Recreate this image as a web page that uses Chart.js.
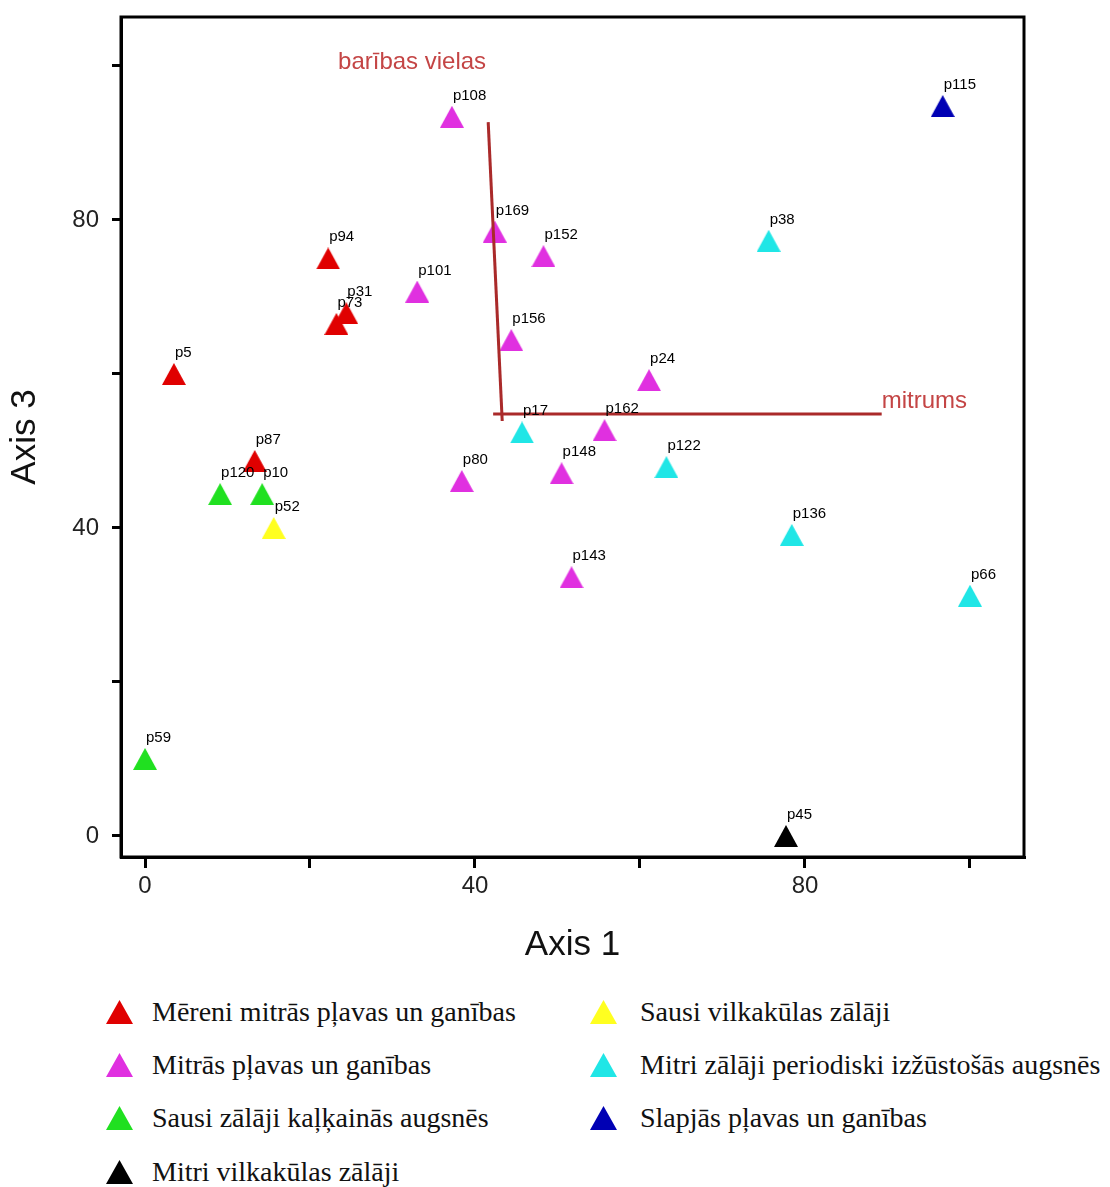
<!DOCTYPE html>
<html>
<head>
<meta charset="utf-8">
<script src="https://cdn.jsdelivr.net/npm/chart.js@4/dist/chart.umd.min.js"></script>
<style>
  body { margin: 0; background: #fff; }
  #wrap { position: relative; width: 1110px; height: 1187px; overflow: hidden; }
  #ord { position: absolute; left: 0; top: 0; }
  #legende {
    position: absolute; left: 106px; top: 985px;
    display: grid; grid-auto-flow: column;
    grid-template-rows: repeat(4, 53.4px); grid-template-columns: 484px auto;
    font-family: "Liberation Serif", "Times New Roman", serif; font-size: 28px; color: #111;
  }
  .item { display: flex; align-items: center; white-space: nowrap; }
  .item svg { margin-right: 19px; flex: none; }
  .item:nth-child(n+5) svg { margin-right: 23px; }
</style>
</head>
<body>
<div id="wrap">
  <canvas id="ord" width="1110" height="980"></canvas>
  <div id="legende"></div>
</div>
<script>
// groupes de végétation
const groupes = [
  'Mēreni mitrās pļavas un ganības',
  'Mitrās pļavas un ganības',
  'Sausi zālāji kaļķainās augsnēs',
  'Mitri vilkakūlas zālāji',
  'Sausi vilkakūlas zālāji',
  'Mitri zālāji periodiski izžūstošās augsnēs',
  'Slapjās pļavas un ganības'
];
const couleurs = ['#e00000', '#e030e0', '#20e020', '#000000', '#ffff20', '#20e6e6', '#0000b4'];

// relevés : nom, Axis 1, Axis 3, groupe
const releves = ['p5', 'p94', 'p31', 'p73', 'p87', 'p120', 'p10', 'p52', 'p59', 'p45', 'p108', 'p169', 'p152',
  'p101', 'p156', 'p24', 'p17', 'p162', 'p148', 'p122', 'p80', 'p143', 'p115', 'p38', 'p136', 'p66'];
const axe1 = [3.5, 22.2, 24.4, 23.2, 13.3, 9.1, 14.2, 15.6, 0, 77.7, 37.2, 42.4, 48.3,
  33.0, 44.4, 61.1, 45.7, 55.7, 50.5, 63.2, 38.4, 51.7, 96.7, 75.6, 78.4, 100.0];
const axe3 = [60, 75, 67.9, 66.5, 48.7, 44.4, 44.4, 40, 10, 0, 93.4, 78.5, 75.3,
  70.7, 64.4, 59.2, 52.4, 52.7, 47.1, 47.9, 46.1, 33.6, 94.8, 77.3, 39.1, 31.2];
const groupe = [0, 0, 0, 0, 0, 2, 2, 4, 2, 3, 1, 1, 1, 1, 1, 1, 5, 1, 1, 5, 1, 1, 6, 5, 5, 5];

// vecteurs (biplot)
const vecteurs = ['barības vielas', 'mitrums'];
const vecDebutX = [43.3, 42.2];
const vecDebutY = [53.9, 54.8];
const vecFinX = [41.6, 89.3];
const vecFinY = [92.7, 54.8];
const vecTexteX = [23.4, 89.3];
const vecTexteY = [99.6, 55.6];

const FONT_SANS = '"Liberation Sans", Arial, sans-serif';

/**
 * triangle utilisé comme pointStyle (centré sur sa boîte)
 */
function triangle(couleur) {
  const c = document.createElement('canvas');
  c.width = 24; c.height = 22;
  const ctx = c.getContext('2d');
  ctx.fillStyle = couleur;
  ctx.beginPath();
  ctx.moveTo(12, 0); ctx.lineTo(24, 22); ctx.lineTo(0, 22);
  ctx.closePath();
  ctx.fill();
  return c;
}

let datasets = groupes.map((nom, g) => ({
  label: nom,
  data: releves.map((r, i) => ({ x: axe1[i], y: axe3[i], nom: r })).filter((p, i) => groupe[i] === g),
  pointStyle: triangle(couleurs[g]),
  pointRadius: 11,
  backgroundColor: couleurs[g],
  borderColor: couleurs[g],
  order: 1
}));

vecteurs.forEach((nom, i) => {
  datasets.push({
    label: nom,
    data: [{ x: vecDebutX[i], y: vecDebutY[i] }, { x: vecFinX[i], y: vecFinY[i] }],
    showLine: true,
    pointRadius: 0,
    borderColor: '#aa2a2a',
    borderWidth: 3,
    order: 0
  });
});

/**
 * étiquettes, textes des vecteurs et cadre
 */
const cadre = {
  id: 'cadre',
  afterDatasetsDraw(chart) {
    const { ctx, chartArea: a } = chart;
    const sx = chart.scales.x, sy = chart.scales.y;
    ctx.save();
    ctx.font = '15px ' + FONT_SANS;
    ctx.fillStyle = '#000';
    ctx.textAlign = 'left';
    ctx.textBaseline = 'alphabetic';
    releves.forEach((nom, i) => {
      ctx.fillText(nom, sx.getPixelForValue(axe1[i]) + 1, sy.getPixelForValue(axe3[i]) - 17);
    });
    ctx.font = '24px ' + FONT_SANS;
    ctx.fillStyle = '#c44545';
    vecteurs.forEach((nom, i) => {
      ctx.fillText(nom, sx.getPixelForValue(vecTexteX[i]), sy.getPixelForValue(vecTexteY[i]));
    });
    ctx.lineWidth = 3;
    ctx.strokeStyle = '#000';
    ctx.strokeRect(a.left, a.top, a.right - a.left, a.bottom - a.top);
    ctx.restore();
  }
};

let options = {
  responsive: false,
  animation: false,
  layout: { padding: { top: 17, right: 86, left: 0, bottom: 0 } },
  plugins: { legend: { display: false }, tooltip: { enabled: false } },
  scales: {
    x: {
      type: 'linear', position: 'bottom', min: -2.91, max: 106.55,
      afterFit: (s) => { s.height = 123; s.paddingLeft = 0; s.paddingRight = 0; },
      grid: { display: true, drawOnChartArea: false, tickLength: 11, color: '#000', lineWidth: 3 },
      border: { display: true, color: '#000', width: 3 },
      ticks: {
        stepSize: 20, includeBounds: false, padding: 4, color: '#222',
        font: { size: 24, family: FONT_SANS },
        callback: (v) => (v % 40 === 0 ? v : '')
      },
      title: { display: true, text: 'Axis 1', color: '#111', font: { size: 35, family: FONT_SANS }, padding: { top: 4, bottom: 14 } }
    },
    y: {
      type: 'linear', position: 'left', min: -2.73, max: 106.36,
      afterFit: (s) => { s.width = 121; s.paddingTop = 0; s.paddingBottom = 0; },
      grid: { display: true, drawOnChartArea: false, tickLength: 9, color: '#000', lineWidth: 3 },
      border: { display: true, color: '#000', width: 3 },
      ticks: {
        stepSize: 20, includeBounds: false, padding: 13, color: '#222',
        font: { size: 24, family: FONT_SANS },
        callback: (v) => (v % 40 === 0 ? v : '')
      },
      title: { display: true, text: 'Axis 3', color: '#111', font: { size: 35, family: FONT_SANS }, padding: { top: 4, bottom: 4 } }
    }
  }
};

new Chart(document.getElementById('ord').getContext('2d'), {
  type: 'scatter',
  data: { datasets: datasets },
  options: options,
  plugins: [cadre]
});

// légende HTML (deux colonnes)
const legende = document.getElementById('legende');
groupes.forEach((nom, g) => {
  const item = document.createElement('div');
  item.className = 'item';
  item.innerHTML = '<svg width="27" height="24"><polygon points="13.5,0 27,24 0,24" fill="' + couleurs[g] + '"/></svg>';
  const span = document.createElement('span');
  span.textContent = nom;
  item.appendChild(span);
  legende.appendChild(item);
});
</script>
</body>
</html>
